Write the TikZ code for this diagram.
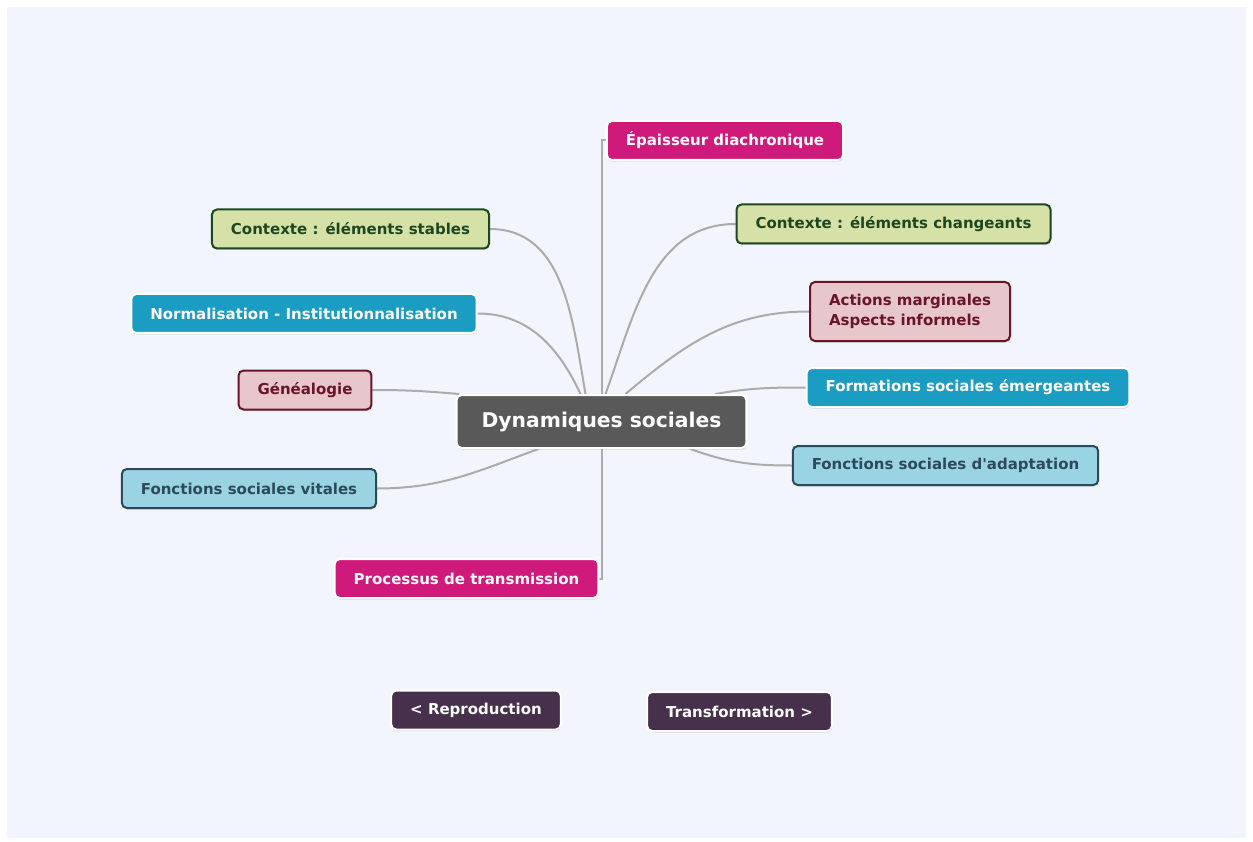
\documentclass[tikz,border=0pt]{standalone}
\usepackage{fontspec}
\setmainfont{DejaVu Sans}
\usetikzlibrary{positioning}
\usetikzlibrary{shadows}
\usetikzlibrary{calc}
\pgfdeclarelayer{paper}
\pgfdeclarelayer{background}
\pgfsetlayers{paper,background,main}
\definecolor{paperblue}{HTML}{F2F5FE}
\definecolor{linegrey}{HTML}{ABABAB}
\definecolor{centregrey}{HTML}{595959}
\definecolor{mapmagenta}{HTML}{CF1A7B}
\definecolor{mapteal}{HTML}{1B9CC2}
\definecolor{mappurple}{HTML}{46304C}
\definecolor{greenfill}{HTML}{D5E1A6}
\definecolor{greenline}{HTML}{1E4620}
\definecolor{pinkfill}{HTML}{E7C6CC}
\definecolor{pinkline}{HTML}{6A1428}
\definecolor{bluefill}{HTML}{9AD3E1}
\definecolor{blueline}{HTML}{2B4A5B}
\tikzset{%
    mapbox/.style={rounded corners=5pt, line width=2pt, minimum height=39pt,
        inner xsep=19pt, font={\fontsize{15}{20}\selectfont\bfseries},
        drop shadow={opacity=0.3, shadow xshift=0.5pt, shadow yshift=-1.5pt}},
    whitebox/.style={mapbox, draw=white, text=white, fill=#1},
    tonebox/.style n args={2}{mapbox, draw=#2, text=#2, fill=#1},
    branch/.style={draw=linegrey, line width=2pt, line cap=round},
}

\begin{document}
\begin{tikzpicture}[x=1pt,y=-1pt]
\useasboundingbox (0,0) rectangle (1253,842);
\begin{pgfonlayer}{paper}
\fill [white] (0,0) rectangle (1253,842);
\fill [paperblue] (7,7) rectangle (1246,838);
\end{pgfonlayer}
% centre
\node (centre) [whitebox=centregrey, minimum height=53pt, inner xsep=25pt,
    font={\fontsize{20.3}{24}\selectfont\bfseries}] at (601.5,421.5) {Dynamiques sociales};
% branches, right
\node (epais) [whitebox=mapmagenta] at (725,140.5) {Épaisseur diachronique};
\node (ctxch) [tonebox={greenfill}{greenline}] at (893.5,224) {Contexte : éléments changeants};
\node (actions) [tonebox={pinkfill}{pinkline}, minimum height=59pt, align=left] at (910,311.5)
    {Actions marginales\\Aspects informels};
\node (formes) [whitebox=mapteal] at (968,387.5) {Formations sociales émergeantes};
\node (fadapt) [tonebox={bluefill}{blueline}] at (945.5,465.5)
    {Fonctions sociales d\textquotesingle adaptation};
% branches, left
\node (ctxst) [tonebox={greenfill}{greenline}] at (350.5,229) {Contexte : éléments stables};
\node (norme) [whitebox=mapteal] at (304,313.5) {Normalisation - Institutionnalisation};
\node (genea) [tonebox={pinkfill}{pinkline}] at (305,390) {Généalogie};
\node (fvital) [tonebox={bluefill}{blueline}] at (249,488.5) {Fonctions sociales vitales};
\node (transm) [whitebox=mapmagenta] at (466.5,578.5) {Processus de transmission};
% bottom
\node (repro) [whitebox=mappurple] at (476,710) {< Reproduction};
\node (transf) [whitebox=mappurple] at (739.5,711.5) {Transformation >};

\begin{pgfonlayer}{background}
\draw [branch] (centre.north) |- (epais.west);
\draw [branch] (centre.south) |- (transm.east);
\draw [branch] (ctxst.east) to [out=0, in=100] ([xshift=-16pt]centre.north);
\draw [branch] (norme.east) to [out=0, in=115] ([xshift=-21pt]centre.north);
\draw [branch] (genea.east) to [out=0, in=175] ([xshift=3pt]centre.north west);
\draw [branch] (fvital.east) to [out=0, in=200] ([xshift=-63pt]centre.south);
\draw [branch] (ctxch.west) to [out=180, in=70] ([xshift=4pt]centre.north);
\draw [branch] (actions.west) to [out=180, in=40] ([xshift=24pt]centre.north);
\draw [branch] (formes.west) to [out=180, in=10] ([xshift=114pt]centre.north);
\draw [branch] (fadapt.west) to [out=180, in=-20] ([xshift=89pt]centre.south);
\end{pgfonlayer}
\end{tikzpicture}
\end{document}
